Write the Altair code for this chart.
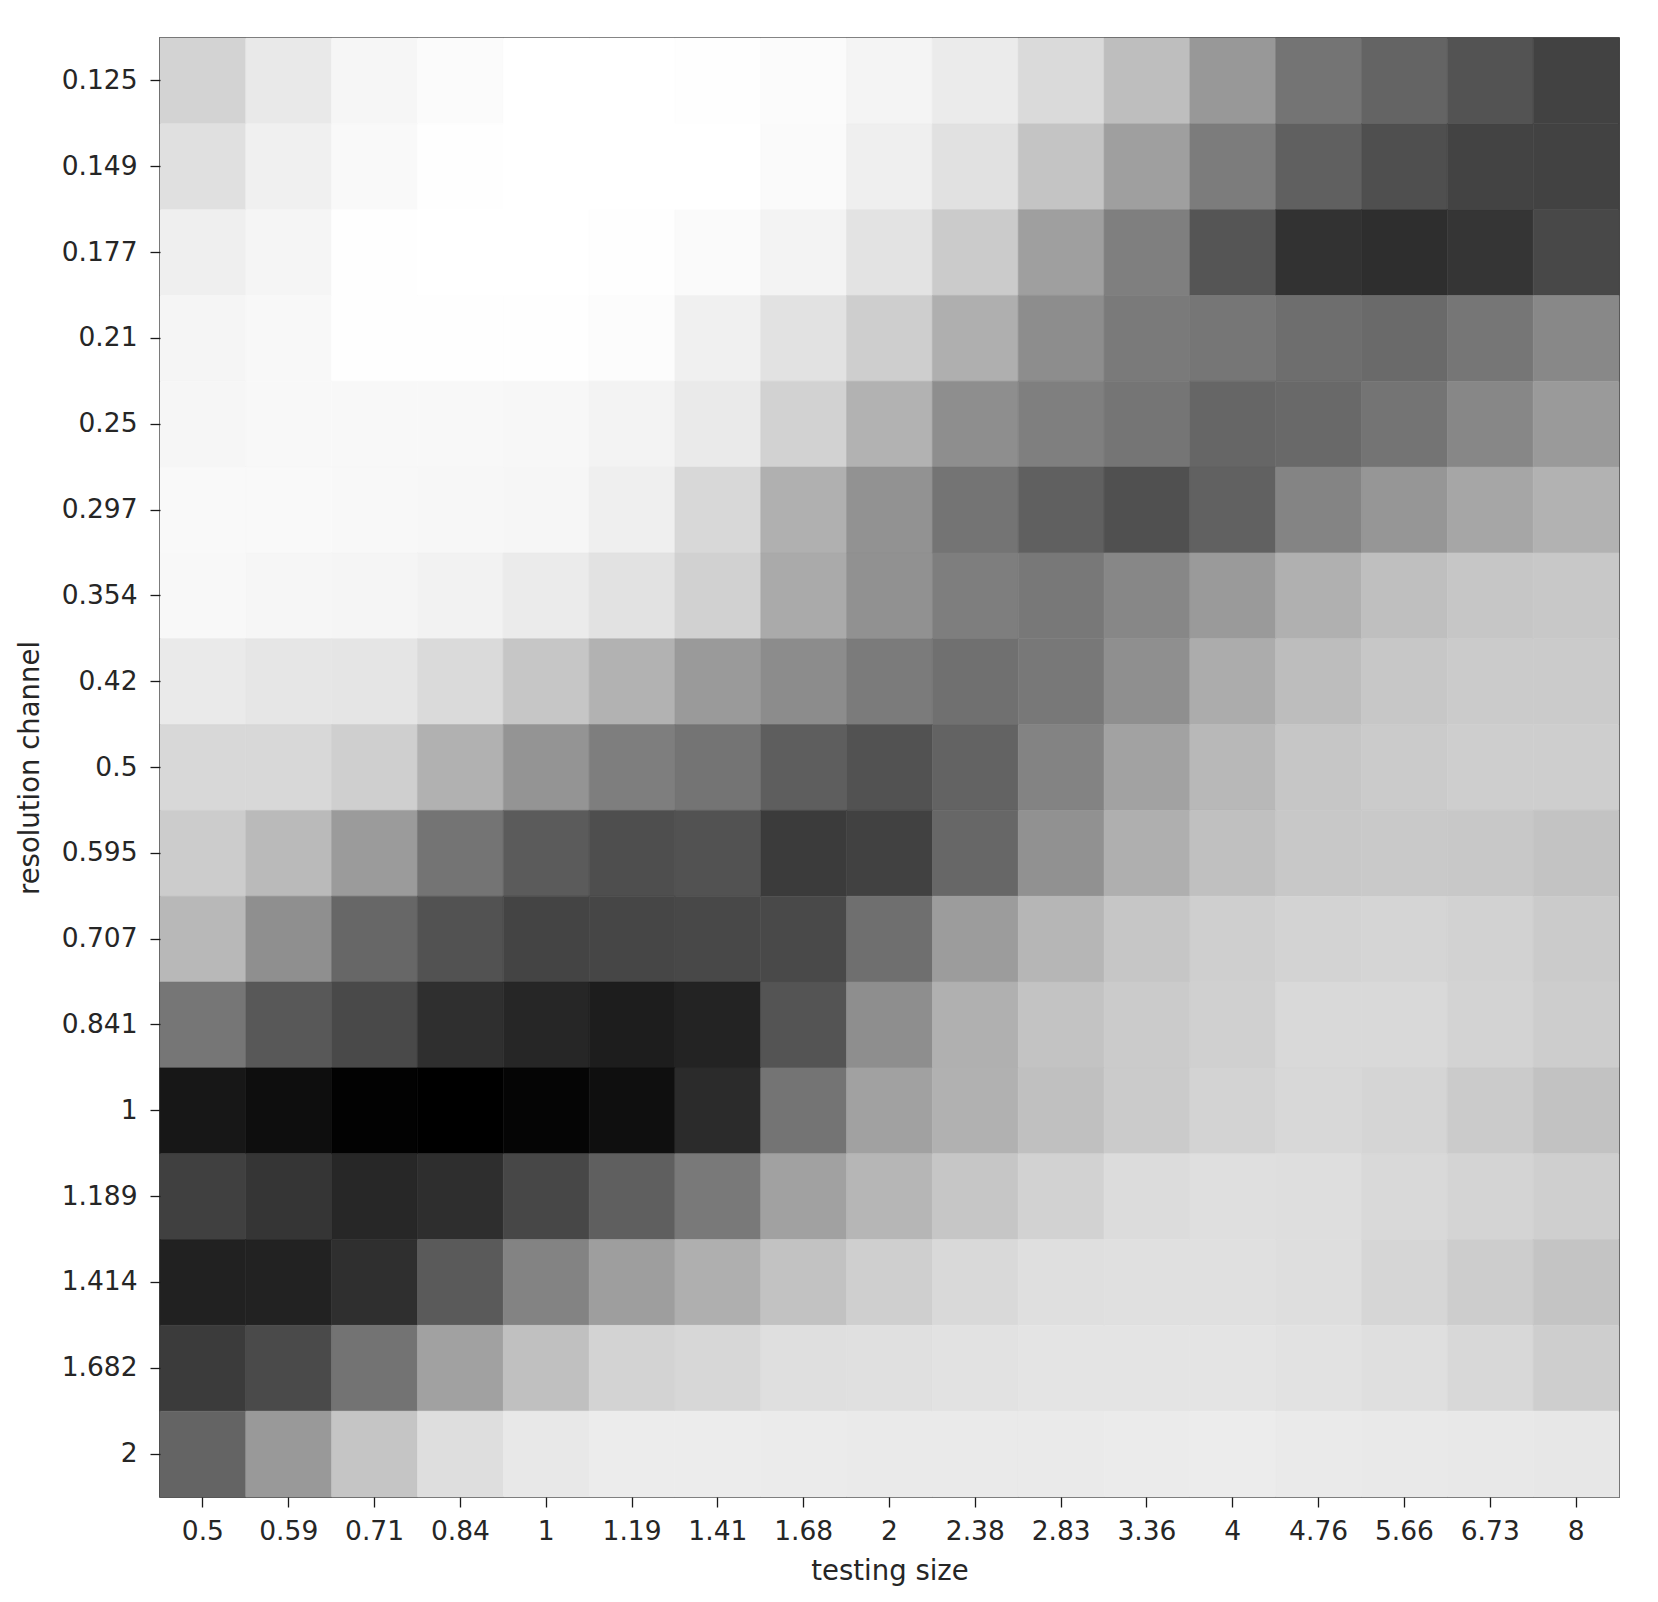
import altair as alt
import pandas as pd

x_labels = ["0.5", "0.59", "0.71", "0.84", "1", "1.19", "1.41", "1.68", "2",
            "2.38", "2.83", "3.36", "4", "4.76", "5.66", "6.73", "8"]
y_labels = ["0.125", "0.149", "0.177", "0.21", "0.25", "0.297", "0.354", "0.42",
            "0.5", "0.595", "0.707", "0.841", "1", "1.189", "1.414", "1.682", "2"]

# cell intensity (0 = black, 255 = white), one row per resolution channel
row_0125 = [0xD3, 0xE9, 0xF6, 0xFB, 0xFF, 0xFF, 0xFE, 0xFB, 0xF4, 0xEB, 0xDA, 0xBE, 0x98, 0x74, 0x64, 0x53, 0x42]
row_0149 = [0xE0, 0xF0, 0xF9, 0xFE, 0xFF, 0xFF, 0xFF, 0xFA, 0xEF, 0xE1, 0xC4, 0x9F, 0x7C, 0x60, 0x4F, 0x43, 0x42]
row_0177 = [0xEF, 0xF5, 0xFE, 0xFF, 0xFF, 0xFE, 0xFA, 0xF3, 0xE3, 0xCB, 0x9F, 0x7F, 0x55, 0x32, 0x2E, 0x35, 0x48]
row_0210 = [0xF5, 0xF8, 0xFE, 0xFE, 0xFE, 0xFC, 0xF0, 0xE2, 0xCE, 0xAF, 0x8D, 0x7A, 0x76, 0x6E, 0x6A, 0x76, 0x88]
row_0250 = [0xF6, 0xF8, 0xF8, 0xF8, 0xF7, 0xF3, 0xEA, 0xD2, 0xB2, 0x8E, 0x7F, 0x75, 0x66, 0x69, 0x74, 0x87, 0x9A]
row_0297 = [0xF9, 0xF9, 0xF8, 0xF7, 0xF6, 0xEF, 0xD8, 0xB0, 0x92, 0x74, 0x60, 0x50, 0x61, 0x84, 0x96, 0xA6, 0xB2]
row_0354 = [0xF8, 0xF6, 0xF5, 0xF2, 0xEB, 0xE2, 0xD1, 0xAA, 0x91, 0x7E, 0x78, 0x87, 0x9A, 0xB0, 0xBF, 0xC6, 0xC8]
row_0420 = [0xEA, 0xE6, 0xE5, 0xDA, 0xC6, 0xB2, 0x9A, 0x8C, 0x7B, 0x70, 0x78, 0x8F, 0xAC, 0xBD, 0xC7, 0xCB, 0xCB]
row_0500 = [0xD8, 0xD8, 0xCF, 0xB1, 0x94, 0x7E, 0x74, 0x5E, 0x52, 0x63, 0x83, 0xA2, 0xB8, 0xC6, 0xCB, 0xCE, 0xCE]
row_0595 = [0xCC, 0xBA, 0x9B, 0x74, 0x5B, 0x4E, 0x52, 0x3B, 0x41, 0x67, 0x91, 0xAF, 0xC0, 0xC8, 0xC9, 0xC8, 0xC3]
row_0707 = [0xB8, 0x8F, 0x67, 0x52, 0x44, 0x46, 0x48, 0x49, 0x6F, 0x9C, 0xB6, 0xC6, 0xCF, 0xD3, 0xD5, 0xD2, 0xCB]
row_0841 = [0x76, 0x58, 0x49, 0x2F, 0x26, 0x1D, 0x23, 0x54, 0x8E, 0xB0, 0xC3, 0xCB, 0xD0, 0xD9, 0xD9, 0xD3, 0xCD]
row_1000 = [0x17, 0x0E, 0x02, 0x00, 0x05, 0x0F, 0x2B, 0x74, 0xA1, 0xB1, 0xC0, 0xCB, 0xD3, 0xD8, 0xD5, 0xCB, 0xC2]
row_1189 = [0x40, 0x35, 0x27, 0x2E, 0x47, 0x5F, 0x79, 0xA1, 0xB6, 0xC6, 0xD2, 0xDC, 0xDF, 0xDE, 0xD9, 0xD4, 0xCF]
row_1414 = [0x21, 0x22, 0x2F, 0x5A, 0x83, 0x9E, 0xAF, 0xC2, 0xCF, 0xD9, 0xDF, 0xE0, 0xE0, 0xDE, 0xD6, 0xCD, 0xC4]
row_1682 = [0x3B, 0x4A, 0x73, 0xA1, 0xC0, 0xD3, 0xD7, 0xDF, 0xE0, 0xE2, 0xE4, 0xE4, 0xE4, 0xE2, 0xDF, 0xD8, 0xCE]
row_2000 = [0x64, 0x99, 0xC5, 0xDE, 0xE8, 0xEC, 0xEC, 0xEB, 0xEA, 0xEA, 0xEA, 0xEB, 0xEC, 0xEA, 0xE9, 0xE8, 0xE7]

rows = [row_0125, row_0149, row_0177, row_0210, row_0250, row_0297, row_0354, row_0420,
        row_0500, row_0595, row_0707, row_0841, row_1000, row_1189, row_1414, row_1682, row_2000]

records = []
for yl, row in zip(y_labels, rows):
    for xl, v in zip(x_labels, row):
        records.append({"testing size": xl, "resolution channel": yl, "value": v})
df = pd.DataFrame(records)

FONT = "DejaVu Sans"
TXT = "#262626"
grey = alt.Scale(domain=[0, 255], range=["#000000", "#ffffff"], interpolate="rgb")

chart = alt.Chart(df).mark_rect(strokeWidth=0.6).encode(
    x=alt.X("testing size:N", sort=x_labels,
            scale=alt.Scale(paddingInner=0, paddingOuter=0),
            axis=alt.Axis(title="testing size", labelAngle=0, titleY=82,
                          titleBaseline="alphabetic", labelPadding=11)),
    y=alt.Y("resolution channel:N", sort=y_labels,
            scale=alt.Scale(paddingInner=0, paddingOuter=0),
            axis=alt.Axis(title="resolution channel", titleX=-116,
                          titleBaseline="bottom", labelPadding=13)),
    color=alt.Color("value:Q", scale=grey, legend=None),
    stroke=alt.Stroke("value:Q", scale=grey, legend=None),
).properties(
    width=1459, height=1459,
    autosize=alt.AutoSizeParams(type="none"),
    padding={"left": 152, "top": 30, "right": 31, "bottom": 97},
    background="white",
).configure_view(
    stroke="#1a1a1a", strokeWidth=1.6
).configure_axis(
    labelFont=FONT, titleFont=FONT, labelFontSize=26.5, titleFontSize=27.5,
    labelColor=TXT, titleColor=TXT, titleFontWeight="normal",
    tickSize=10, tickColor="#1a1a1a", tickWidth=1.3,
    domain=False, grid=False,
)

chart.save("out.html", embed_options={"renderer": "svg", "actions": False})
